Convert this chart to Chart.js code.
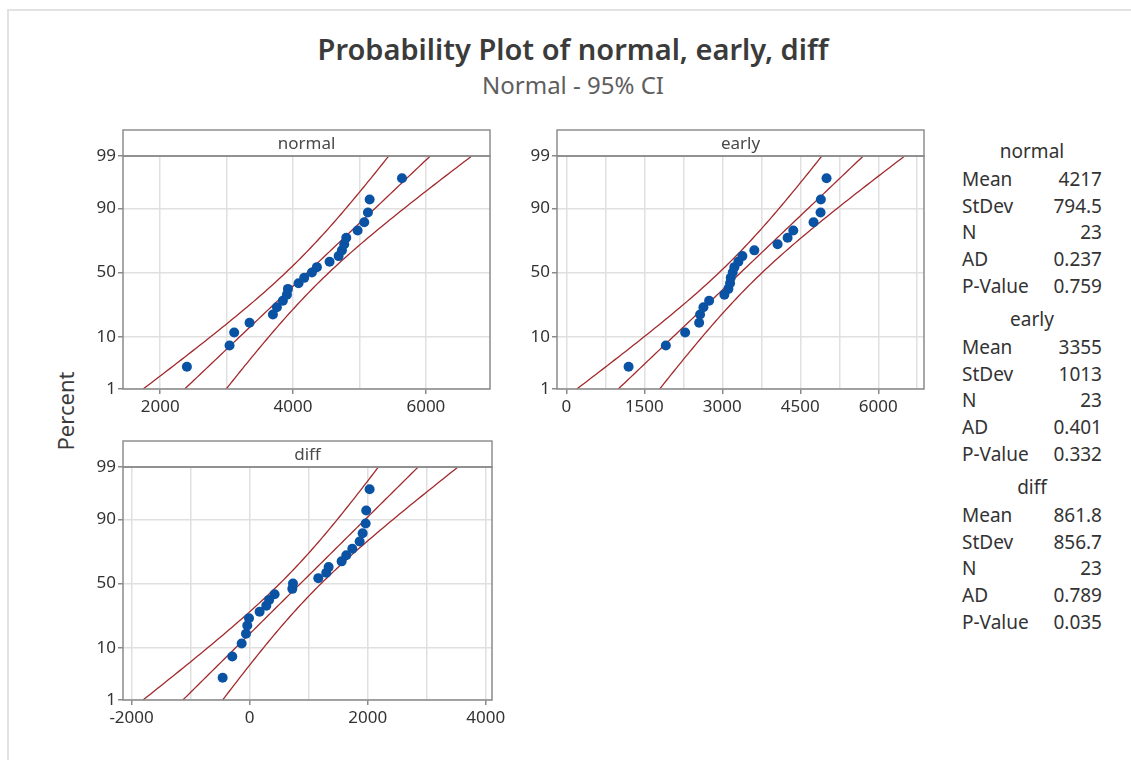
<!DOCTYPE html>
<html>
<head>
<meta charset="utf-8">
<script src="https://cdn.jsdelivr.net/npm/chart.js@4.4.1/dist/chart.umd.min.js"></script>
<style>
  html,body{margin:0;padding:0;background:#fff;}
  body{width:1131px;height:760px;overflow:hidden;position:relative;font-family:"Noto Sans",sans-serif;}
  .frame{position:absolute;left:7px;top:9px;width:1140px;height:770px;border-left:2px solid #e2e2e2;border-top:2px solid #e2e2e2;}
  #title{position:absolute;left:0;width:1146px;top:31px;line-height:36px;text-align:center;font-size:29px;font-weight:600;color:#3b3b3b;}
  #subtitle{position:absolute;left:0;width:1146px;top:70px;line-height:30px;text-align:center;font-size:24px;color:#5e5e5e;}
  #ylab{position:absolute;left:15px;top:397px;width:100px;line-height:28px;text-align:center;font-size:22px;color:#3b3b3b;transform:rotate(-90deg);}
  canvas{position:absolute;}
  .st{position:absolute;left:962px;width:140px;font-size:19px;line-height:24px;color:#333;}
  .st .l{position:absolute;left:0;top:0;}
  .st .v{position:absolute;right:0;top:0;}
  .st.h{text-align:center;}
</style>
</head>
<body>
<div class="frame"></div>
<div id="title">Probability Plot of normal, early, diff</div>
<div id="subtitle">Normal - 95% CI</div>
<div id="ylab">Percent</div>
<canvas id="c1" width="449" height="305" style="left:63px;top:124px"></canvas>
<canvas id="c2" width="449" height="305" style="left:497px;top:124px"></canvas>
<canvas id="c3" width="451" height="305" style="left:63px;top:435px"></canvas>
<div id="stats"></div>
<script>
// ---------- data (sorted values of each sample) ----------
const seriesNames = ["normal", "early", "diff"];
const normalValues = [2402, 3044, 3114, 3345, 3697, 3757, 3847, 3908, 3923, 4083, 4168, 4284, 4359, 4550, 4686, 4736, 4771, 4801, 4972, 5072, 5127, 5153, 5640];
const earlyValues  = [1197, 1914, 2285, 2554, 2573, 2637, 2746, 3040, 3117, 3149, 3162, 3200, 3232, 3309, 3386, 3616, 4064, 4256, 4365, 4755, 4890, 4896, 5005];
const diffValues   = [-457, -294, -135, -62, -40, -11, 169, 282, 330, 423, 723, 734, 1163, 1298, 1338, 1558, 1637, 1739, 1863, 1914, 1965, 1975, 2032];
// plotting positions (percent) of the 23 ranked points
const plotPercents = [2.99, 7.26, 11.54, 15.81, 20.09, 24.36, 28.63, 32.91, 37.18, 41.45, 45.73, 50.00, 54.27, 58.55, 62.82, 67.09, 71.37, 75.64, 79.91, 84.19, 88.46, 92.74, 97.01];

// statistics shown in the table
const statLabels = ["Mean", "StDev", "N", "AD", "P-Value"];
const normalStats = ["4217", "794.5", "23", "0.237", "0.759"];
const earlyStats  = ["3355", "1013", "23", "0.401", "0.332"];
const diffStats   = ["861.8", "856.7", "23", "0.789", "0.035"];
const fitMeans  = [4217, 3355, 861.8];
const fitStDevs = [794.5, 1013, 856.7];
const fitN      = [23, 23, 23];

// tick labels
const percentTicks = [1, 10, 50, 90, 99];
const normalGrid = [2000, 3000, 4000, 5000, 6000];
const normalLabels = [2000, 4000, 6000];
const earlyGrid = [0, 750, 1500, 2250, 3000, 3750, 4500, 5250, 6000, 6750];
const earlyLabels = [0, 1500, 3000, 4500, 6000];
const diffGrid = [-2000, -1000, 0, 1000, 2000, 3000, 4000];
const diffLabels = [-2000, 0, 2000, 4000];

// ---------- normal probability axis transform ----------
function probit(p) {
  const a = [-3.969683028665376e+01, 2.209460984245205e+02, -2.759285104469687e+02, 1.383577518672690e+02, -3.066479806614716e+01, 2.506628277459239e+00];
  const b = [-5.447609879822406e+01, 1.615858368580409e+02, -1.556989798598866e+02, 6.680131188771972e+01, -1.328068155288572e+01];
  const c = [-7.784894002430293e-03, -3.223964580411365e-01, -2.400758277161838e+00, -2.549732539343734e+00, 4.374664141464968e+00, 2.938163982698783e+00];
  const d = [7.784695709041462e-03, 3.224671290700398e-01, 2.445134137142996e+00, 3.754408661907416e+00];
  const plow = 0.02425;
  let q, r;
  if (p < plow) {
    q = Math.sqrt(-2 * Math.log(p));
    return (((((c[0]*q+c[1])*q+c[2])*q+c[3])*q+c[4])*q+c[5]) / ((((d[0]*q+d[1])*q+d[2])*q+d[3])*q+1);
  } else if (p <= 1 - plow) {
    q = p - 0.5; r = q*q;
    return (((((a[0]*r+a[1])*r+a[2])*r+a[3])*r+a[4])*r+a[5])*q / (((((b[0]*r+b[1])*r+b[2])*r+b[3])*r+b[4])*r+1);
  } else {
    q = Math.sqrt(-2 * Math.log(1 - p));
    return -(((((c[0]*q+c[1])*q+c[2])*q+c[3])*q+c[4])*q+c[5]) / ((((d[0]*q+d[1])*q+d[2])*q+d[3])*q+1);
  }
}
const zOf = pct => probit(pct / 100);
const Z_MIN = zOf(1), Z_MAX = zOf(99);

Chart.defaults.font.family = '"Noto Sans", sans-serif';

const framePlugin = {
  id: 'frame',
  afterDraw(chart, args, opts) {
    const a = chart.chartArea, ctx = chart.ctx;
    ctx.save();
    // strip header
    ctx.fillStyle = '#fff';
    ctx.fillRect(a.left, a.top - 26, a.right - a.left, 26);
    ctx.strokeStyle = '#8f8f8f';
    ctx.lineWidth = 1.5;
    ctx.strokeRect(a.left, a.top - 26, a.right - a.left, 26);
    ctx.fillStyle = '#4a4a4a';
    ctx.font = '17px "Noto Sans", sans-serif';
    ctx.textAlign = 'center';
    ctx.textBaseline = 'middle';
    ctx.fillText(opts.label, (a.left + a.right) / 2, a.top - 12);
    // plot box
    ctx.strokeStyle = '#8a8a8a';
    ctx.lineWidth = 1.5;
    ctx.strokeRect(a.left, a.top, a.right - a.left, a.bottom - a.top);
    ctx.restore();
  }
};

function makePanel(canvasId, name, values, mean, sd, n, xmin, xmax, grid, labels) {
  const pts = values.map((v, i) => ({ x: v, y: zOf(plotPercents[i]) }));
  const steps = 80;
  const zc = 1.959964;
  const lower = [], upper = [], fit = [];
  for (let k = 0; k <= steps; k++) {
    const z = Z_MIN + (Z_MAX - Z_MIN) * k / steps;
    const xp = mean + z * sd;
    const se = sd * Math.sqrt((1 + z * z / 2) / n);
    fit.push({ x: xp, y: z });
    lower.push({ x: xp - zc * se, y: z });
    upper.push({ x: xp + zc * se, y: z });
  }
  const lineStyle = { showLine: true, pointRadius: 0, borderColor: '#a2292c', borderWidth: 1.3, tension: 0, order: 2, fill: false };
  new Chart(document.getElementById(canvasId), {
    type: 'scatter',
    data: {
      datasets: [
        { data: pts, pointRadius: 5, pointHoverRadius: 5, backgroundColor: '#0a52a3', borderWidth: 0, order: 0 },
        Object.assign({ data: fit }, lineStyle),
        Object.assign({ data: lower }, lineStyle),
        Object.assign({ data: upper }, lineStyle)
      ]
    },
    options: {
      responsive: false, animation: false, devicePixelRatio: 1,
      layout: { padding: { left: 0, top: 32, right: 22, bottom: 0 } },
      plugins: { legend: { display: false }, tooltip: { enabled: false }, frame: { label: name } },
      scales: {
        x: {
          type: 'linear', min: xmin, max: xmax,
          afterBuildTicks: s => { s.ticks = grid.map(v => ({ value: v })); },
          afterFit: s => { s.height = 40; },
          border: { display: false },
          grid: { color: '#e0e0e0', lineWidth: 1.5, tickLength: 5, drawTicks: true,
                  tickColor: c => (c.tick && labels.includes(c.tick.value)) ? '#8a8a8a' : 'rgba(0,0,0,0)', tickWidth: 1.5 },
          ticks: { autoSkip: false, maxRotation: 0, padding: 3, color: '#333', font: { size: 17 },
                   callback: v => labels.includes(v) ? String(v) : '' }
        },
        y: {
          type: 'linear', min: Z_MIN, max: Z_MAX,
          afterBuildTicks: s => { s.ticks = percentTicks.map(p => ({ value: zOf(p) })); },
          afterFit: s => { s.width = 60; },
          border: { display: false },
          grid: { color: '#e0e0e0', lineWidth: 1.5, tickLength: 5, drawTicks: true, tickColor: '#8a8a8a', tickWidth: 1.5 },
          ticks: { autoSkip: false, padding: 2, color: '#333', font: { size: 17 },
                   callback: (v, i) => String(percentTicks[i]) }
        }
      }
    },
    plugins: [framePlugin]
  });
}

makePanel('c1', seriesNames[0], normalValues, fitMeans[0], fitStDevs[0], fitN[0], 1440, 6965, normalGrid, normalLabels);
makePanel('c2', seriesNames[1], earlyValues, fitMeans[1], fitStDevs[1], fitN[1], -180, 6880, earlyGrid, earlyLabels);
makePanel('c3', seriesNames[2], diffValues, fitMeans[2], fitStDevs[2], fitN[2], -2145, 4105, diffGrid, diffLabels);

// stats table
const statSets = [normalStats, earlyStats, diffStats];
const statsEl = document.getElementById('stats');
const headerY = [152, 320, 488];
statSets.forEach((vals, g) => {
  const h = document.createElement('div');
  h.className = 'st h';
  h.style.top = (headerY[g] - 13) + 'px';
  h.textContent = seriesNames[g];
  statsEl.appendChild(h);
  statLabels.forEach((lab, r) => {
    const row = document.createElement('div');
    row.className = 'st';
    row.style.top = (headerY[g] + 28 + r * 26.7 - 13) + 'px';
    row.innerHTML = '<span class="l">' + lab + '</span><span class="v">' + vals[r] + '</span>';
    statsEl.appendChild(row);
  });
});
</script>
</body>
</html>
